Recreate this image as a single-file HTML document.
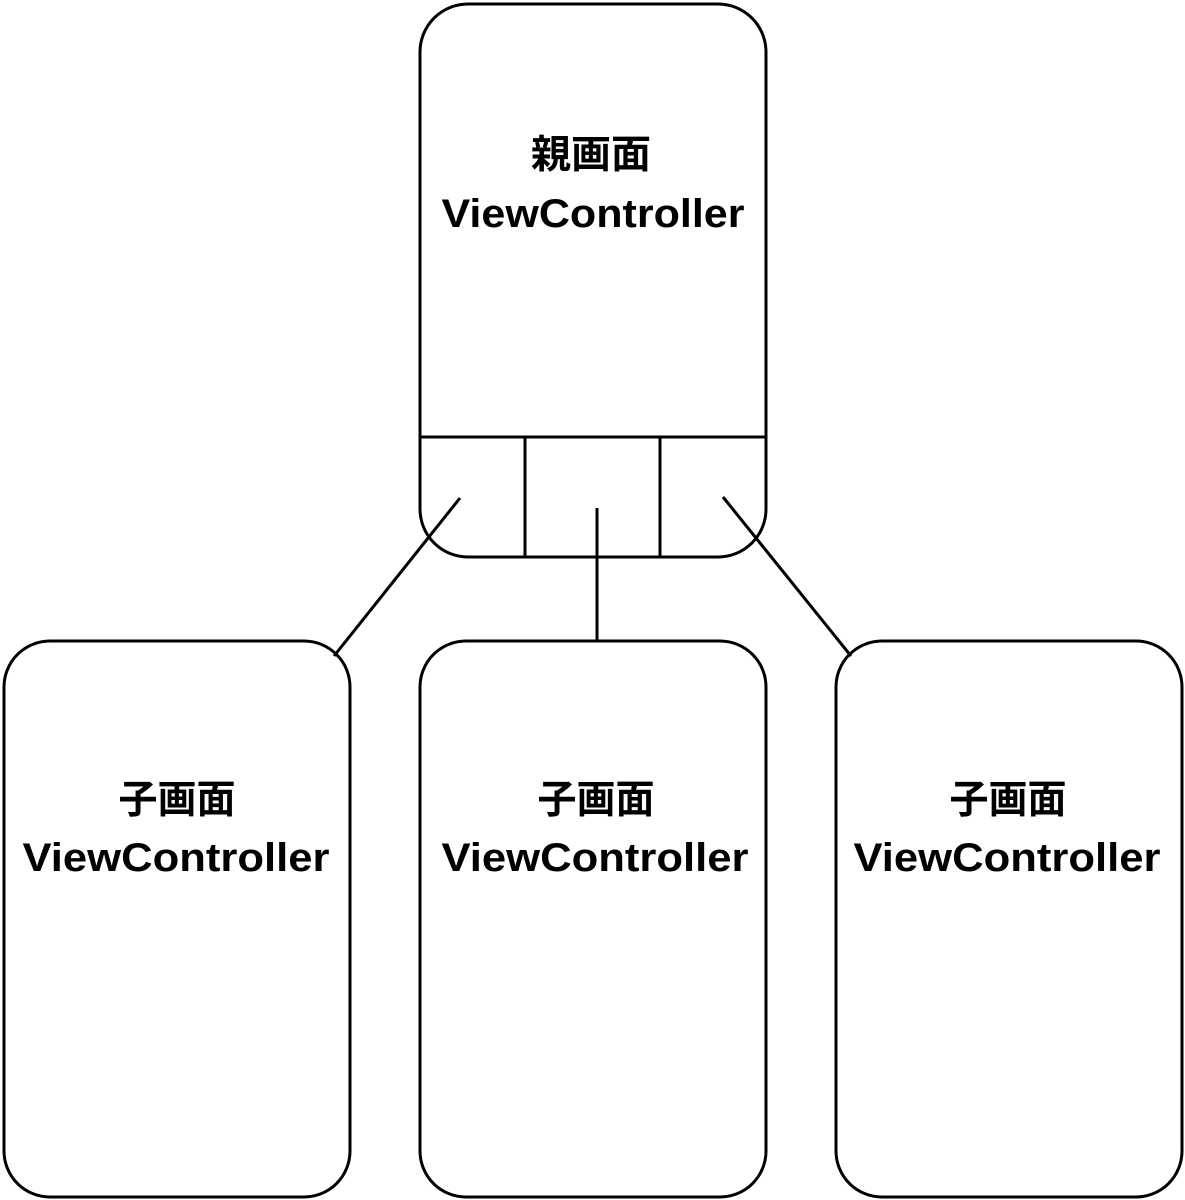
<!DOCTYPE html>
<html><head><meta charset="utf-8"><style>
html,body{margin:0;padding:0;background:#fff;width:1185px;height:1200px;overflow:hidden}
</style></head><body>
<svg width="1185" height="1200" viewBox="0 0 1185 1200" xmlns="http://www.w3.org/2000/svg">
<g fill="none" stroke="#000" stroke-width="3">
<rect x="420" y="4" width="346" height="553" rx="48" ry="48"/>
<line x1="420" y1="437" x2="766" y2="437"/>
<line x1="525" y1="437" x2="525" y2="557"/>
<line x1="660" y1="437" x2="660" y2="557"/>
<line x1="460" y1="498" x2="334" y2="656"/>
<line x1="597" y1="508" x2="597" y2="641"/>
<line x1="723" y1="497" x2="851" y2="656"/>
<rect x="4" y="641" width="346" height="556" rx="46" ry="46"/>
<rect x="420" y="641" width="346" height="556" rx="46" ry="46"/>
<rect x="836" y="641" width="346" height="556" rx="46" ry="46"/>
</g>
<g font-family="'Liberation Sans','Noto Sans CJK JP',sans-serif" font-weight="bold" text-anchor="middle" fill="#000">
<text x="591" y="168" font-size="39" textLength="120" lengthAdjust="spacingAndGlyphs">親画面</text>
<text x="593" y="227" font-size="40" textLength="303" lengthAdjust="spacingAndGlyphs">ViewController</text>
<text x="177" y="813" font-size="39" textLength="117" lengthAdjust="spacingAndGlyphs">子画面</text>
<text x="176" y="871" font-size="40" textLength="307" lengthAdjust="spacingAndGlyphs">ViewController</text>
<text x="596" y="813" font-size="39" textLength="117" lengthAdjust="spacingAndGlyphs">子画面</text>
<text x="595" y="871" font-size="40" textLength="307" lengthAdjust="spacingAndGlyphs">ViewController</text>
<text x="1008" y="813" font-size="39" textLength="117" lengthAdjust="spacingAndGlyphs">子画面</text>
<text x="1007" y="871" font-size="40" textLength="307" lengthAdjust="spacingAndGlyphs">ViewController</text>
</g>
</svg>
</body></html>
